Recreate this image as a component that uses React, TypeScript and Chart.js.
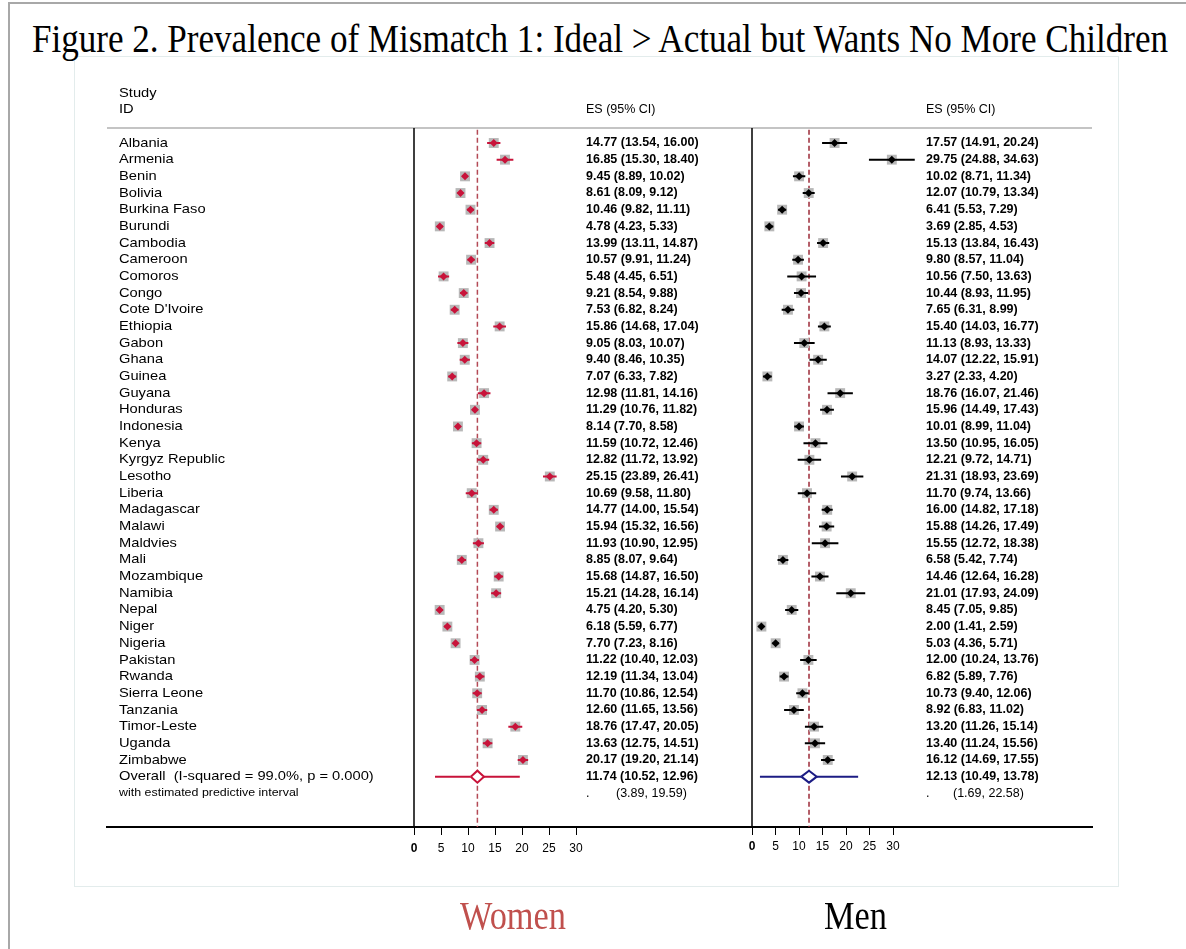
import React, { useEffect, useLayoutEffect, useRef } from 'react';
import { Chart, registerables } from 'chart.js';

Chart.register(...registerables);

// ---------------- DATA ----------------
const countries = [
  'Albania', 'Armenia', 'Benin', 'Bolivia', 'Burkina Faso', 'Burundi', 'Cambodia', 'Cameroon',
  'Comoros', 'Congo', "Cote D'Ivoire", 'Ethiopia', 'Gabon', 'Ghana', 'Guinea', 'Guyana',
  'Honduras', 'Indonesia', 'Kenya', 'Kyrgyz Republic', 'Lesotho', 'Liberia', 'Madagascar',
  'Malawi', 'Maldvies', 'Mali', 'Mozambique', 'Namibia', 'Nepal', 'Niger', 'Nigeria',
  'Pakistan', 'Rwanda', 'Sierra Leone', 'Tanzania', 'Timor-Leste', 'Uganda', 'Zimbabwe',
];

const womenES = [14.77, 16.85, 9.45, 8.61, 10.46, 4.78, 13.99, 10.57, 5.48, 9.21, 7.53, 15.86, 9.05, 9.40, 7.07, 12.98, 11.29, 8.14, 11.59, 12.82, 25.15, 10.69, 14.77, 15.94, 11.93, 8.85, 15.68, 15.21, 4.75, 6.18, 7.70, 11.22, 12.19, 11.70, 12.60, 18.76, 13.63, 20.17];
const womenLo = [13.54, 15.30, 8.89, 8.09, 9.82, 4.23, 13.11, 9.91, 4.45, 8.54, 6.82, 14.68, 8.03, 8.46, 6.33, 11.81, 10.76, 7.70, 10.72, 11.72, 23.89, 9.58, 14.00, 15.32, 10.90, 8.07, 14.87, 14.28, 4.20, 5.59, 7.23, 10.40, 11.34, 10.86, 11.65, 17.47, 12.75, 19.20];
const womenHi = [16.00, 18.40, 10.02, 9.12, 11.11, 5.33, 14.87, 11.24, 6.51, 9.88, 8.24, 17.04, 10.07, 10.35, 7.82, 14.16, 11.82, 8.58, 12.46, 13.92, 26.41, 11.80, 15.54, 16.56, 12.95, 9.64, 16.50, 16.14, 5.30, 6.77, 8.16, 12.03, 13.04, 12.54, 13.56, 20.05, 14.51, 21.14];

const menES = [17.57, 29.75, 10.02, 12.07, 6.41, 3.69, 15.13, 9.80, 10.56, 10.44, 7.65, 15.40, 11.13, 14.07, 3.27, 18.76, 15.96, 10.01, 13.50, 12.21, 21.31, 11.70, 16.00, 15.88, 15.55, 6.58, 14.46, 21.01, 8.45, 2.00, 5.03, 12.00, 6.82, 10.73, 8.92, 13.20, 13.40, 16.12];
const menLo = [14.91, 24.88, 8.71, 10.79, 5.53, 2.85, 13.84, 8.57, 7.50, 8.93, 6.31, 14.03, 8.93, 12.22, 2.33, 16.07, 14.49, 8.99, 10.95, 9.72, 18.93, 9.74, 14.82, 14.26, 12.72, 5.42, 12.64, 17.93, 7.05, 1.41, 4.36, 10.24, 5.89, 9.40, 6.83, 11.26, 11.24, 14.69];
const menHi = [20.24, 34.63, 11.34, 13.34, 7.29, 4.53, 16.43, 11.04, 13.63, 11.95, 8.99, 16.77, 13.33, 15.91, 4.20, 21.46, 17.43, 11.04, 16.05, 14.71, 23.69, 13.66, 17.18, 17.49, 18.38, 7.74, 16.28, 24.09, 9.85, 2.59, 5.71, 13.76, 7.76, 12.06, 11.02, 15.14, 15.56, 17.55];

// overall: [ES, lower, upper]; predictive: [lower, upper]
const womenOverall = [11.74, 10.52, 12.96];
const womenPredictive = [3.89, 19.59];
const menOverall = [12.13, 10.49, 13.78];
const menPredictive = [1.69, 22.58];

const overallLabel = 'Overall  (I-squared = 99.0%, p = 0.000)';
const predictiveLabel = 'with estimated predictive interval';
const tickValues = [0, 5, 10, 15, 20, 25, 30];

const titleText = 'Figure 2. Prevalence of Mismatch 1: Ideal > Actual but Wants No More Children';
const panelLabels = ['Women', 'Men'];

// ---------------- LAYOUT ----------------
const W = 1186;
const H = 949;
const AREA = { left: 107, right: 1092, top: 128, bottom: 827 };
const AXIS_H = 40;
const WOMEN_ZERO = 414;
const WOMEN_PPU = 5.4;
const MEN_ZERO = 752;
const MEN_PPU = 4.7;
const ROW0 = 143;
const ROW_STEP = 16.675;
const NAME_X = 119;
const NAME_SX = 1.13;
const WOMEN_TEXT_X = 586;
const MEN_TEXT_X = 926;

const SANS = '"Liberation Sans", Arial, Helvetica, sans-serif';
const SERIF = '"Liberation Serif", "Times New Roman", Times, serif';

const xMin = -(WOMEN_ZERO - AREA.left) / WOMEN_PPU;
const xMax = xMin + (AREA.right - AREA.left) / WOMEN_PPU;
const x2Min = -(MEN_ZERO - AREA.left) / MEN_PPU;
const x2Max = x2Min + (AREA.right - AREA.left) / MEN_PPU;
const yMin = -(ROW0 - AREA.top) / ROW_STEP;
const yMax = (AREA.bottom - ROW0) / ROW_STEP;

const CRIMSON = '#c8133a';
const GRAY_BOX = '#b8b8b8';
const NAVY = '#1c1c84';

const n = countries.length;
const overallRow = n;
const predRow = n + 1;
const DIAMOND_H = 0.36;

const fmt = (v: number) => v.toFixed(2);

function panelDatasets(es: number[], lo: number[], hi: number[], overall: number[], pred: number[], axis: string, markColor: string, ciColor: string, ovColor: string, dashColor: string) {
  const gap = { x: null as any, y: null as any };
  return [
    {
      label: axis + '-zero',
      data: [{ x: 0, y: yMin }, { x: 0, y: yMax }],
      xAxisID: axis, yAxisID: 'y', showLine: true, pointRadius: 0,
      borderColor: '#000', borderWidth: 1.5, order: 10,
    },
    {
      label: axis + '-overall-line',
      data: [{ x: overall[0], y: yMin + 0.1 }, { x: overall[0], y: yMax }],
      xAxisID: axis, yAxisID: 'y', showLine: true, pointRadius: 0,
      borderColor: dashColor, borderWidth: 1.5, borderDash: [5, 3], order: 9,
    },
    {
      label: axis + '-boxes',
      data: es.map((v, i) => ({ x: v, y: i })),
      xAxisID: axis, yAxisID: 'y', pointStyle: 'rect', pointRadius: 7,
      pointBackgroundColor: GRAY_BOX, pointBorderWidth: 0, order: 5,
    },
    {
      label: axis + '-ci',
      data: es.flatMap((_, i) => [{ x: lo[i], y: i }, { x: hi[i], y: i }, gap]),
      xAxisID: axis, yAxisID: 'y', showLine: true, spanGaps: false, pointRadius: 0,
      borderColor: ciColor, borderWidth: 2, order: 4,
    },
    {
      label: axis + '-es',
      data: es.map((v, i) => ({ x: v, y: i })),
      xAxisID: axis, yAxisID: 'y', pointStyle: 'rectRot', pointRadius: 4,
      pointBackgroundColor: markColor, pointBorderWidth: 0, order: 3,
    },
    {
      label: axis + '-pred',
      data: [
        { x: pred[0], y: overallRow }, { x: overall[1], y: overallRow }, gap,
        { x: overall[2], y: overallRow }, { x: pred[1], y: overallRow },
      ],
      xAxisID: axis, yAxisID: 'y', showLine: true, spanGaps: false, pointRadius: 0,
      borderColor: ovColor, borderWidth: 2, order: 2,
    },
    {
      label: axis + '-diamond',
      data: [
        { x: overall[1], y: overallRow }, { x: overall[0], y: overallRow - DIAMOND_H },
        { x: overall[2], y: overallRow }, { x: overall[0], y: overallRow + DIAMOND_H },
        { x: overall[1], y: overallRow },
      ],
      xAxisID: axis, yAxisID: 'y', showLine: true, pointRadius: 0,
      borderColor: ovColor, borderWidth: 2, borderJoinStyle: 'miter',
      fill: 'shape', backgroundColor: '#ffffff', order: 1,
    },
  ];
}

function stretchText(ctx: CanvasRenderingContext2D, text: string, x: number, y: number, sx: number) {
  ctx.save();
  ctx.translate(x, y);
  ctx.scale(sx, 1);
  ctx.fillText(text, 0, 0);
  ctx.restore();
}

const textPlugin = {
  id: 'forestText',
  beforeDatasetsDraw(chart: any) {
    const { ctx, chartArea } = chart;
    ctx.save();
    ctx.strokeStyle = '#c4c4c4';
    ctx.lineWidth = 2;
    ctx.beginPath();
    ctx.moveTo(chartArea.left, chartArea.top);
    ctx.lineTo(chartArea.right, chartArea.top);
    ctx.stroke();
    ctx.restore();
  },
  afterDraw(chart: any) {
    const { ctx, scales } = chart;
    const y = scales.y;
    const x2 = scales.x2;
    const xs = scales.x;
    ctx.save();
    ctx.fillStyle = '#000';
    ctx.textBaseline = 'middle';
    ctx.textAlign = 'left';
    const nameFont = `13px ${SANS}`;
    const reg = `12.5px ${SANS}`;
    const bold = `bold 12.5px ${SANS}`;

    // headers
    ctx.font = nameFont;
    stretchText(ctx, 'Study', NAME_X, y.getPixelForValue(-3), NAME_SX);
    stretchText(ctx, 'ID', NAME_X, y.getPixelForValue(-2), NAME_SX);
    ctx.font = reg;
    ctx.fillText('ES (95% CI)', WOMEN_TEXT_X, y.getPixelForValue(-2));
    ctx.fillText('ES (95% CI)', MEN_TEXT_X, y.getPixelForValue(-2));

    countries.forEach((c, i) => {
      const py = y.getPixelForValue(i);
      ctx.font = nameFont;
      stretchText(ctx, c, NAME_X, py, NAME_SX);
      ctx.font = bold;
      ctx.fillText(`${fmt(womenES[i])} (${fmt(womenLo[i])}, ${fmt(womenHi[i])})`, WOMEN_TEXT_X, py);
      ctx.fillText(`${fmt(menES[i])} (${fmt(menLo[i])}, ${fmt(menHi[i])})`, MEN_TEXT_X, py);
    });

    const oy = y.getPixelForValue(overallRow);
    ctx.font = nameFont;
    stretchText(ctx, overallLabel, NAME_X, oy, NAME_SX);
    ctx.font = bold;
    ctx.fillText(`${fmt(womenOverall[0])} (${fmt(womenOverall[1])}, ${fmt(womenOverall[2])})`, WOMEN_TEXT_X, oy);
    ctx.fillText(`${fmt(menOverall[0])} (${fmt(menOverall[1])}, ${fmt(menOverall[2])})`, MEN_TEXT_X, oy);

    const py = y.getPixelForValue(predRow);
    ctx.font = `11px ${SANS}`;
    stretchText(ctx, predictiveLabel, NAME_X, py, NAME_SX);
    ctx.font = reg;
    ctx.fillText('.', WOMEN_TEXT_X, py);
    ctx.fillText(`(${fmt(womenPredictive[0])}, ${fmt(womenPredictive[1])})`, WOMEN_TEXT_X + 30, py);
    ctx.fillText('.', MEN_TEXT_X, py);
    ctx.fillText(`(${fmt(menPredictive[0])}, ${fmt(menPredictive[1])})`, MEN_TEXT_X + 27, py);

    // men axis ticks (hidden second x scale)
    const top = xs.top;
    ctx.strokeStyle = '#000';
    ctx.lineWidth = 1;
    ctx.textAlign = 'center';
    ctx.textBaseline = 'top';
    tickValues.forEach((v) => {
      const px = Math.round(x2.getPixelForValue(v)) + 0.5;
      ctx.beginPath();
      ctx.moveTo(px, top);
      ctx.lineTo(px, top + 8);
      ctx.stroke();
      ctx.font = v === 0 ? `bold 12px ${SANS}` : `12px ${SANS}`;
      ctx.fillText(String(v), x2.getPixelForValue(v), top + 8 + 6);
    });
    ctx.restore();
  },
};

function fitWidth(el: HTMLElement | null, target: number) {
  if (!el) return;
  el.style.transform = 'none';
  const w = el.getBoundingClientRect().width;
  if (w > 0) el.style.transform = `scaleX(${target / w})`;
}

export default function App() {
  const canvasRef = useRef<HTMLCanvasElement>(null);
  const titleRef = useRef<HTMLSpanElement>(null);
  const womenRef = useRef<HTMLSpanElement>(null);
  const menRef = useRef<HTMLSpanElement>(null);

  useLayoutEffect(() => {
    fitWidth(titleRef.current, 1136);
    fitWidth(womenRef.current, 106);
    fitWidth(menRef.current, 63);
  }, []);

  useEffect(() => {
    if (!canvasRef.current) return;
    const datasets = [
      ...panelDatasets(womenES, womenLo, womenHi, womenOverall, womenPredictive, 'x', CRIMSON, CRIMSON, CRIMSON, '#b44a56'),
      ...panelDatasets(menES, menLo, menHi, menOverall, menPredictive, 'x2', '#000', '#000', NAVY, '#9c2a38'),
    ];
    const chart = new Chart(canvasRef.current, {
      type: 'scatter',
      data: { datasets: datasets as any },
      options: {
        animation: false,
        responsive: false,
        events: [],
        layout: { padding: { left: AREA.left, right: W - AREA.right, top: AREA.top, bottom: H - AREA.bottom - AXIS_H } },
        plugins: { legend: { display: false }, tooltip: { enabled: false } },
        scales: {
          x: {
            type: 'linear', position: 'bottom', min: xMin, max: xMax,
            afterBuildTicks: (s: any) => { s.ticks = tickValues.map((v) => ({ value: v })); },
            afterFit: (s: any) => { s.height = AXIS_H; },
            grid: { drawOnChartArea: false, drawTicks: true, tickLength: 8, color: '#000', lineWidth: 1 },
            border: { display: true, color: '#000', width: 2 },
            ticks: {
              color: '#000', padding: 6, maxRotation: 0, autoSkip: false,
              font: (ctx: any) => ({ family: SANS, size: 12, weight: ctx.tick && ctx.tick.value === 0 ? 'bold' : 'normal' }),
            },
          },
          x2: { type: 'linear', position: 'bottom', min: x2Min, max: x2Max, display: false },
          y: { type: 'linear', min: yMin, max: yMax, reverse: true, display: false },
        },
      } as any,
      plugins: [textPlugin],
    });
    return () => chart.destroy();
  }, []);

  return (
    <div style={{ position: 'absolute', left: 0, top: 0, width: W, height: H, overflow: 'hidden', background: '#fff' }}>
      <div style={{ position: 'absolute', left: 8, top: 2, width: 1400, height: 1200, borderLeft: '2px solid #a8a8a8', borderTop: '2px solid #a8a8a8' }} />
      <div style={{ position: 'absolute', left: 74, top: 56, width: 1043, height: 829, border: '1px solid #e3ecec' }} />
      <span ref={titleRef} style={{ position: 'absolute', left: 32, top: 18.5, fontFamily: SERIF, fontSize: 40, lineHeight: '40px', whiteSpace: 'nowrap', color: '#000', transformOrigin: 'left top', display: 'inline-block' }}>{titleText}</span>
      <canvas ref={canvasRef} width={W} height={H} style={{ position: 'absolute', left: 0, top: 0, width: W, height: H }} />
      <span ref={womenRef} style={{ position: 'absolute', left: 460, top: 895.5, fontFamily: SERIF, fontSize: 40, lineHeight: '40px', whiteSpace: 'nowrap', color: '#c0504d', transformOrigin: 'left top', display: 'inline-block' }}>{panelLabels[0]}</span>
      <span ref={menRef} style={{ position: 'absolute', left: 824, top: 895.5, fontFamily: SERIF, fontSize: 40, lineHeight: '40px', whiteSpace: 'nowrap', color: '#000', transformOrigin: 'left top', display: 'inline-block' }}>{panelLabels[1]}</span>
    </div>
  );
}
